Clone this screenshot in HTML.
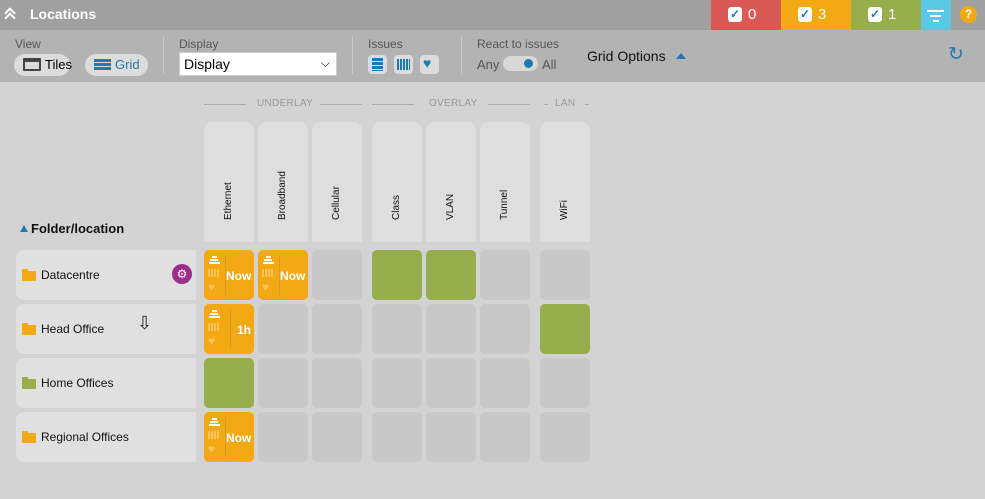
<!DOCTYPE html>
<html><head><meta charset="utf-8"><style>
*{margin:0;padding:0;box-sizing:border-box}
body{width:985px;height:499px;background:#d3d3d3;font-family:"Liberation Sans",sans-serif;position:relative;overflow:hidden}
.a{position:absolute}
.hdr{left:0;top:0;width:985px;height:30px;background:#a0a0a0}
.tb{left:0;top:30px;width:985px;height:52px;background:#b3b3b3}
.lbl{font-size:12px;color:#555}
.pill{height:22px;border-radius:11px;background:#dcdcdc;font-size:13px;line-height:22px}
.sep{width:1px;height:38px;background:#c8c8c8;top:36px}
.ib{width:19px;height:19px;border-radius:4px;background:#dcdcdc;top:55px}
.hc{top:122px;width:50px;height:120px;background:#dedede;border-radius:8px 8px 0 0}
.c{width:50px;height:50px;border-radius:5px;background:#c8c8c8}
.o{background:#f2a913}
.g{background:#98ad4b}
.rl{left:16px;width:180px;height:50px;background:#e0e0e0;border-radius:8px 0 0 8px;font-size:12px;line-height:50px;padding-left:25px;color:#111}
.fold{position:absolute;left:6px;top:21px;width:14px;height:10px;background:#f2a913;border-radius:1px}
.fold:before{content:"";position:absolute;left:0;top:-2px;width:6px;height:3px;background:inherit;border-radius:1px 1px 0 0}
.gl{top:104px;height:1px;background:#aaa}
.gt{top:98px;font-size:10px;color:#999;letter-spacing:.3px}
.now{position:absolute;color:#fff;font-weight:bold;font-size:12px}
.dv{position:absolute;top:5px;width:1px;height:40px;background:#d79a20}
.st{position:absolute;left:4px;top:6px;width:12px;height:10px}
.st i{display:block;height:2px;background:#fff;margin:0 auto 1px}
.db{position:absolute;left:4px;top:19px;width:11px;height:8px;background:repeating-linear-gradient(90deg,#f7c45c 0 2px,transparent 2px 3px)}
.ht{position:absolute;left:4px;top:31px;color:#f7c45c;font-size:12px;line-height:12px}
.vt{position:absolute;top:220px;font-size:10px;line-height:12px;transform-origin:0 0;transform:rotate(-90deg);white-space:nowrap;color:#111}
</style></head><body>
<div class="a hdr"></div>
<div class="a" style="left:6px;top:9px;width:8px;height:8px;border-left:2px solid #fff;border-top:2px solid #fff;transform:rotate(45deg)"></div>
<div class="a" style="left:6px;top:14px;width:8px;height:8px;border-left:2px solid #fff;border-top:2px solid #fff;transform:rotate(45deg)"></div>
<div class="a" style="left:30px;top:6px;color:#fff;font-size:14px;font-weight:bold">Locations</div>
<div class="a" style="left:711px;top:0;width:70px;height:30px;background:#d95a55"></div>
<div class="a" style="left:781px;top:0;width:70px;height:30px;background:#f2a913"></div>
<div class="a" style="left:851px;top:0;width:70px;height:30px;background:#98ad4b"></div>
<div class="a" style="left:921px;top:0;width:30px;height:30px;background:#5bc8e4"></div>
<div class="a" style="left:728px;top:7px;width:14px;height:15px;background:#fff;border-radius:3px;color:#1e7bb0;font-size:12px;text-align:center;line-height:15px;font-weight:bold">✓</div>
<div class="a" style="left:748px;top:6px;color:#fff;font-size:15px">0</div>
<div class="a" style="left:798px;top:7px;width:14px;height:15px;background:#fff;border-radius:3px;color:#1e7bb0;font-size:12px;text-align:center;line-height:15px;font-weight:bold">✓</div>
<div class="a" style="left:818px;top:6px;color:#fff;font-size:15px">3</div>
<div class="a" style="left:868px;top:7px;width:14px;height:15px;background:#fff;border-radius:3px;color:#1e7bb0;font-size:12px;text-align:center;line-height:15px;font-weight:bold">✓</div>
<div class="a" style="left:888px;top:6px;color:#fff;font-size:15px">1</div>
<div class="a" style="left:927px;top:10px;width:17px;height:2px;background:#fff"></div>
<div class="a" style="left:930px;top:15px;width:11px;height:2px;background:#fff"></div>
<div class="a" style="left:933px;top:20px;width:6px;height:2px;background:#fff"></div>
<div class="a" style="left:960px;top:6px;width:17px;height:17px;border-radius:50%;background:#f2a913;color:#fff;font-weight:bold;font-size:12px;text-align:center;line-height:17px">?</div>

<div class="a tb"></div>
<div class="a lbl" style="left:15px;top:37px">View</div>
<div class="a pill" style="left:14px;top:54px;width:56px;padding-left:31px">Tiles</div>
<div class="a" style="left:23px;top:58px;width:18px;height:13px;border:2px solid #444;border-top-width:4px;border-radius:1px"></div>
<div class="a pill" style="left:85px;top:54px;width:63px;padding-left:30px;color:#1e7bb0">Grid</div>
<div class="a" style="left:94px;top:59px;width:17px;height:11px;background:repeating-linear-gradient(#1e7bb0 0 3px,transparent 3px 4px)"></div>
<div class="a sep" style="left:163px"></div>
<div class="a lbl" style="left:179px;top:37px">Display</div>
<div class="a" style="left:179px;top:52px;width:158px;height:24px;background:#fff;border:1px solid #ccc;font-size:14px;line-height:22px;padding-left:4px">Display<span style="position:absolute;right:6px;top:-1px;font-size:12px">⌵</span></div>
<div class="a sep" style="left:352px"></div>
<div class="a lbl" style="left:368px;top:37px">Issues</div>
<div class="a ib" style="left:368px"></div><div class="a" style="left:372px;top:58px;width:11px;height:13px;background:repeating-linear-gradient(#1e7bb0 0 3px,transparent 3px 4px)"></div>
<div class="a ib" style="left:394px"></div><div class="a" style="left:397px;top:59px;width:13px;height:11px;background:repeating-linear-gradient(90deg,#1e7bb0 0 2px,transparent 2px 3px)"></div>
<div class="a ib" style="left:420px"></div><div class="a" style="left:423px;top:55px;color:#1e7bb0;font-size:14px">♥</div>
<div class="a sep" style="left:461px"></div>
<div class="a lbl" style="left:477px;top:37px">React to issues</div>
<div class="a lbl" style="left:477px;top:57px;font-size:13px">Any</div>
<div class="a" style="left:503px;top:56px;width:35px;height:15px;border-radius:8px;background:#d8d8d8"></div>
<div class="a" style="left:524px;top:59px;width:9px;height:9px;border-radius:50%;background:#1e7bb0"></div>
<div class="a lbl" style="left:542px;top:57px;font-size:13px">All</div>
<div class="a" style="left:587px;top:48px;font-size:14px;color:#111">Grid Options</div>
<div class="a" style="left:676px;top:53px;width:0;height:0;border-left:5px solid transparent;border-right:5px solid transparent;border-bottom:6px solid #1e7bb0"></div>
<div class="a" style="left:948px;top:43px;font-size:19px;color:#1e7bb0">↻</div>

<div class="a gl" style="left:204px;width:42px"></div><div class="a gt" style="left:257px">UNDERLAY</div><div class="a gl" style="left:320px;width:42px"></div>
<div class="a gl" style="left:372px;width:42px"></div><div class="a gt" style="left:429px">OVERLAY</div><div class="a gl" style="left:488px;width:42px"></div>
<div class="a gl" style="left:544px;width:4px"></div><div class="a gt" style="left:555px">LAN</div><div class="a gl" style="left:585px;width:4px"></div>

<div class="a hc" style="left:204px"></div>
<div class="a hc" style="left:258px"></div>
<div class="a hc" style="left:312px"></div>
<div class="a hc" style="left:372px"></div>
<div class="a hc" style="left:426px"></div>
<div class="a hc" style="left:480px"></div>
<div class="a hc" style="left:540px"></div>
<span class="vt" style="left:223px">Ethernet</span>
<span class="vt" style="left:277px">Broadband</span>
<span class="vt" style="left:331px">Cellular</span>
<span class="vt" style="left:391px">Class</span>
<span class="vt" style="left:445px">VLAN</span>
<span class="vt" style="left:499px">Tunnel</span>
<span class="vt" style="left:559px">WiFi</span>

<div class="a" style="left:20px;top:225px;width:0;height:0;border-left:4px solid transparent;border-right:4px solid transparent;border-bottom:7px solid #1e7bb0"></div>
<div class="a" style="left:31px;top:221px;font-size:13px;font-weight:bold;color:#111">Folder/location</div>

<div class="a rl" style="top:250px"><i class="fold"></i>Datacentre</div>
<div class="a" style="left:172px;top:264px;width:20px;height:20px;border-radius:50%;background:#9b2f8a;color:#fff;font-size:12px;text-align:center;line-height:20px">⚙</div>
<div class="a rl" style="top:304px"><i class="fold"></i>Head Office</div>
<div class="a" style="left:137px;top:313px;font-size:18px;color:#222">⇩</div>
<div class="a rl" style="top:358px"><i class="fold" style="background:#98ad4b"></i>Home Offices</div>
<div class="a rl" style="top:412px"><i class="fold"></i>Regional Offices</div>

<div class="a c o" style="left:204px;top:250px"><div class="st"><i style="width:5px"></i><i style="width:8px"></i><i style="width:11px"></i></div><div class="db"></div><div class="ht">♥</div><div class="dv" style="left:21px"></div><div class="now" style="left:22px;top:19px">Now</div></div>
<div class="a c o" style="left:258px;top:250px"><div class="st"><i style="width:5px"></i><i style="width:8px"></i><i style="width:11px"></i></div><div class="db"></div><div class="ht">♥</div><div class="dv" style="left:21px"></div><div class="now" style="left:22px;top:19px">Now</div></div>
<div class="a c" style="left:312px;top:250px"></div>
<div class="a c g" style="left:372px;top:250px"></div>
<div class="a c g" style="left:426px;top:250px"></div>
<div class="a c" style="left:480px;top:250px"></div>
<div class="a c" style="left:540px;top:250px"></div>
<div class="a c o" style="left:204px;top:304px"><div class="st"><i style="width:5px"></i><i style="width:8px"></i><i style="width:11px"></i></div><div class="db"></div><div class="ht">♥</div><div class="dv" style="left:26px"></div><div class="now" style="left:33px;top:19px">1h</div></div>
<div class="a c" style="left:258px;top:304px"></div>
<div class="a c" style="left:312px;top:304px"></div>
<div class="a c" style="left:372px;top:304px"></div>
<div class="a c" style="left:426px;top:304px"></div>
<div class="a c" style="left:480px;top:304px"></div>
<div class="a c g" style="left:540px;top:304px"></div>
<div class="a c g" style="left:204px;top:358px"></div>
<div class="a c" style="left:258px;top:358px"></div>
<div class="a c" style="left:312px;top:358px"></div>
<div class="a c" style="left:372px;top:358px"></div>
<div class="a c" style="left:426px;top:358px"></div>
<div class="a c" style="left:480px;top:358px"></div>
<div class="a c" style="left:540px;top:358px"></div>
<div class="a c o" style="left:204px;top:412px"><div class="st"><i style="width:5px"></i><i style="width:8px"></i><i style="width:11px"></i></div><div class="db"></div><div class="ht">♥</div><div class="dv" style="left:21px"></div><div class="now" style="left:22px;top:19px">Now</div></div>
<div class="a c" style="left:258px;top:412px"></div>
<div class="a c" style="left:312px;top:412px"></div>
<div class="a c" style="left:372px;top:412px"></div>
<div class="a c" style="left:426px;top:412px"></div>
<div class="a c" style="left:480px;top:412px"></div>
<div class="a c" style="left:540px;top:412px"></div>
</body></html>
